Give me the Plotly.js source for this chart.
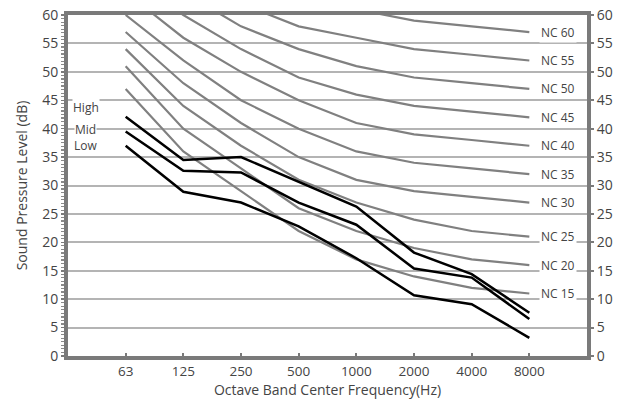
<!DOCTYPE html>
<html>
<head>
<meta charset="utf-8">
<script src="https://cdn.plot.ly/plotly-3.0.1.min.js"></script>
<style>html,body{margin:0;padding:0;background:#fff;}#chart{width:627px;height:404px;}</style>
</head>
<body>
<div id="chart"></div>
<script>
const categories = ['63', '125', '250', '500', '1000', '2000', '4000', '8000'];

const ncNames = ['NC 15', 'NC 20', 'NC 25', 'NC 30', 'NC 35', 'NC 40', 'NC 45', 'NC 50', 'NC 55', 'NC 60'];
const nc15 = [47, 36, 29, 22, 17, 14, 12, 11];
const nc20 = [51, 40, 33, 26, 22, 19, 17, 16];
const nc25 = [54, 44, 37, 31, 27, 24, 22, 21];
const nc30 = [57, 48, 41, 35, 31, 29, 28, 27];
const nc35 = [60, 52, 45, 40, 36, 34, 33, 32];
const nc40 = [64, 56, 50, 45, 41, 39, 38, 37];
const nc45 = [67, 60, 54, 49, 46, 44, 43, 42];
const nc50 = [71, 64, 58, 54, 51, 49, 48, 47];
const nc55 = [74, 67, 62, 58, 56, 54, 53, 52];
const nc60 = [77, 71, 67, 63, 61, 59, 58, 57];
const ncCurves = [nc15, nc20, nc25, nc30, nc35, nc40, nc45, nc50, nc55, nc60];

const speedNames = ['High', 'Mid', 'Low'];
const high = [42.1, 34.5, 35.0, 30.6, 26.3, 18.2, 14.4, 7.6];
const mid  = [39.5, 32.6, 32.3, 27.0, 23.1, 15.4, 13.8, 6.5];
const low  = [37.0, 28.9, 27.0, 22.8, 17.2, 10.7, 9.1, 3.2];
const speedCurves = [high, mid, low];
const speedLabelY = [43.8, 39.8, 37.0];

const yTicks = [0, 5, 10, 15, 20, 25, 30, 35, 40, 45, 50, 55, 60];

const idx = categories.map((c, i) => i);
const traces = [];
ncCurves.forEach((v, k) => {
  traces.push({x: idx, y: v, type: 'scatter', mode: 'lines', name: ncNames[k],
    line: {color: '#808080', width: 2.2}, hoverinfo: 'skip'});
});
speedCurves.forEach((v, k) => {
  traces.push({x: idx, y: v, type: 'scatter', mode: 'lines', name: speedNames[k],
    line: {color: '#000000', width: 2.5}, hoverinfo: 'skip'});
});
traces.push({x: [0], y: [0], yaxis: 'y2', mode: 'markers', marker: {opacity: 0}, showlegend: false, hoverinfo: 'skip'});

const annotations = [];
ncCurves.forEach((v, k) => {
  annotations.push({x: 7.49, y: v[7], xref: 'x', yref: 'y', text: ncNames[k], showarrow: false,
    font: {family: 'Open Sans', size: 12, color: '#444'}, bgcolor: '#ffffff', borderpad: 1});
});
speedNames.forEach((n, k) => {
  annotations.push({x: -0.69, y: speedLabelY[k], xref: 'x', yref: 'y', text: n, showarrow: false,
    font: {family: 'Open Sans', size: 12, color: '#444'}, bgcolor: '#ffffff', borderpad: 0});
});

const layout = {
  width: 627, height: 404,
  margin: {l: 68, r: 40, t: 15, b: 48},
  paper_bgcolor: '#ffffff', plot_bgcolor: '#ffffff',
  showlegend: false,
  font: {family: 'Open Sans', color: '#444'},
  xaxis: {
    range: [-1, 8], tickvals: idx, ticktext: categories,
    showgrid: false, zeroline: false,
    showline: true, linecolor: '#7a7a7a', linewidth: 4, mirror: true,
    ticks: 'inside', ticklen: 3, tickwidth: 2, tickcolor: '#7a7a7a',
    tickfont: {family: 'Open Sans', size: 13.5, color: '#444'},
    title: {text: 'Octave Band Center Frequency(Hz)', font: {family: 'Open Sans', size: 14, color: '#444'}, standoff: 7}
  },
  yaxis: {
    range: [0, 60], tickvals: yTicks,
    showgrid: true, gridcolor: '#b4b4b4', gridwidth: 2, zeroline: false,
    showline: true, linecolor: '#7a7a7a', linewidth: 4,
    ticks: 'outside', ticklen: 3, tickwidth: 1.5, tickcolor: '#7a7a7a',
    minor: {dtick: 0.625, ticks: 'outside', ticklen: 3, tickwidth: 1.2, tickcolor: '#8a8a8a', showgrid: false},
    tickfont: {family: 'Open Sans', size: 14, color: '#444'},
    title: {text: 'Sound Pressure Level (dB)', font: {family: 'Open Sans', size: 14, color: '#444'}, standoff: 12}
  },
  yaxis2: {
    range: [0, 60], tickvals: yTicks, overlaying: 'y', side: 'right',
    showgrid: false, zeroline: false,
    showline: true, linecolor: '#7a7a7a', linewidth: 4,
    ticks: 'outside', ticklen: 3, tickwidth: 2, tickcolor: '#7a7a7a',
    tickfont: {family: 'Open Sans', size: 14, color: '#444'}
  },
  annotations: annotations
};

Plotly.newPlot('chart', traces, layout, {displayModeBar: false, staticPlot: true});
</script>
</body>
</html>
